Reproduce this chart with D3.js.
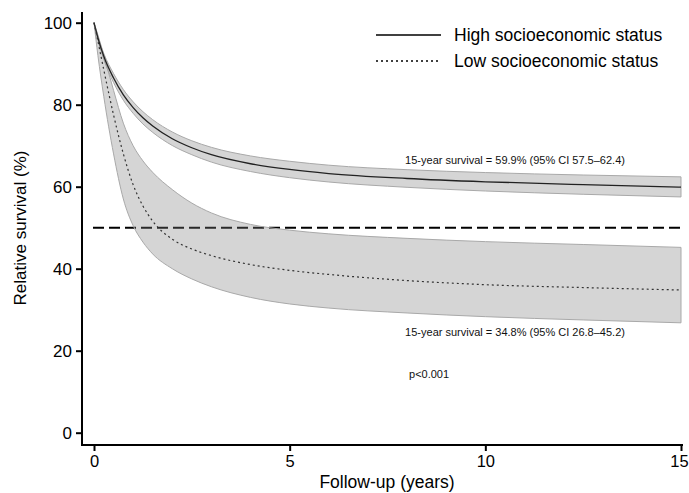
<!DOCTYPE html>
<html>
<head>
<meta charset="utf-8">
<script src="https://cdn.jsdelivr.net/npm/d3@7/dist/d3.min.js"></script>
<style>
  body { margin: 0; background: #fff; }
  svg { font-family: "Liberation Sans", Arial, sans-serif; }
</style>
</head>
<body>
<svg id="chart" width="689" height="493"></svg>
<script>
// follow-up time points (years)
var years = [0, 0.1, 0.25, 0.5, 0.75, 1, 1.25, 1.5, 2, 2.5, 3, 4, 5, 6, 8, 10, 12.5, 15];

// high socioeconomic status: estimate and 95% CI
var highEst = [100, 96.3, 91.8, 86.5, 82.4, 79.3, 76.8, 74.8, 71.7, 69.5, 67.8, 65.6, 64.2, 63.2, 62.0, 61.2, 60.5, 59.9];
var highLo  = [100, 95.9, 91.1, 85.4, 81.1, 77.9, 75.3, 73.25, 70.05, 67.8, 66.0, 63.7, 62.2, 61.15, 59.85, 58.95, 58.15, 57.5];
var highHi  = [100, 96.7, 92.5, 87.6, 83.7, 80.7, 78.3, 76.35, 73.35, 71.2, 69.6, 67.5, 66.2, 65.25, 64.15, 63.45, 62.85, 62.4];

// low socioeconomic status: estimate and 95% CI
var lowEst = [100, 95.5, 88.5, 77.5, 68, 60.5, 55.3, 51.6, 47.2, 44.8, 43.2, 41.0, 39.6, 38.6, 37.1, 36.1, 35.4, 34.8];
var lowLo  = [100, 92, 82, 68, 57, 50.5, 46.5, 43.6, 40, 37.5, 35.6, 33.0, 31.4, 30.4, 29.2, 28.3, 27.5, 26.8];
var lowHi  = [100, 97, 92, 83.5, 75.5, 70, 66.3, 63.5, 59.3, 56, 53.6, 50.8, 49.4, 48.5, 47.4, 46.6, 45.9, 45.2];

var xTicks = [0, 5, 10, 15];
var yTicks = [0, 20, 40, 60, 80, 100];
var refLine = 50;

var legendLabels = ['High socioeconomic status', 'Low socioeconomic status'];
var notes = [
  { x: 7.95, y: 65.5, text: '15-year survival = 59.9% (95% CI 57.5\u201362.4)' },
  { x: 7.95, y: 23.5, text: '15-year survival = 34.8% (95% CI 26.8\u201345.2)' },
  { x: 8.05, y: 13.3, text: 'p<0.001' }
];

var svg = d3.select('#chart');

var x = d3.scaleLinear().domain([0, 15]).range([94, 681]);
var y = d3.scaleLinear().domain([0, 100]).range([432.7, 22.7]);

function rows(est, lo, hi) {
  return years.map(function(t, i) {
    return { t: t, est: est[i], lo: lo[i], hi: hi[i] };
  });
}

var high = rows(highEst, highLo, highHi);
var low = rows(lowEst, lowLo, lowHi);

var curve = d3.curveMonotoneX;

var area = d3.area()
  .x(function(d) { return x(d.t); })
  .y0(function(d) { return y(d.lo); })
  .y1(function(d) { return y(d.hi); })
  .curve(curve);

var line = d3.line()
  .x(function(d) { return x(d.t); })
  .y(function(d) { return y(d.est); })
  .curve(curve);

// reference line at 50%
svg.append('line')
  .attr('x1', x(0) - 1).attr('x2', x(15) + 1)
  .attr('y1', y(refLine)).attr('y2', y(refLine))
  .attr('stroke', '#000')
  .attr('stroke-width', 2)
  .attr('stroke-dasharray', '11,5');

// confidence bands
[high, low].forEach(function(series) {
  svg.append('path')
    .datum(series)
    .attr('d', area)
    .attr('fill', '#7f7f7f')
    .attr('fill-opacity', 0.33)
    .attr('stroke', '#a9a9a9')
    .attr('stroke-width', 1);
});

svg.append('path')
  .datum(high)
  .attr('d', line)
  .attr('fill', 'none')
  .attr('stroke', '#222')
  .attr('stroke-width', 1.3);

svg.append('path')
  .datum(low)
  .attr('d', line)
  .attr('fill', 'none')
  .attr('stroke', '#333')
  .attr('stroke-width', 1.2)
  .attr('stroke-dasharray', '2,3');

// axes
var xAxis = svg.append('g')
  .attr('transform', 'translate(0,445)')
  .call(d3.axisBottom(x).tickValues(xTicks).tickSize(6).tickPadding(4).tickSizeOuter(0));

var yAxis = svg.append('g')
  .attr('transform', 'translate(82,0)')
  .call(d3.axisLeft(y).tickValues(yTicks).tickSize(6).tickPadding(4).tickSizeOuter(0));

[xAxis, yAxis].forEach(function(g) {
  g.select('.domain').remove();
  g.selectAll('.tick line').attr('stroke', '#000').attr('stroke-width', 2);
  g.selectAll('.tick text').attr('font-size', 17).attr('fill', '#000')
    .attr('font-family', '"Liberation Sans", Arial, sans-serif');
});
xAxis.selectAll('.tick text')
  .attr('font-size', 16.5)
  .attr('dx', function(d) { return d === 15 ? -2 : 0; });

// axis lines
svg.append('path')
  .attr('d', 'M82,12V445H683')
  .attr('fill', 'none')
  .attr('stroke', '#000')
  .attr('stroke-width', 2);

svg.append('text')
  .attr('x', 387).attr('y', 488)
  .attr('text-anchor', 'middle')
  .attr('font-size', 17.5)
  .text('Follow-up (years)');

svg.append('text')
  .attr('transform', 'translate(26,228) rotate(-90)')
  .attr('text-anchor', 'middle')
  .attr('font-size', 17)
  .text('Relative survival (%)');

// legend
var legend = svg.append('g');
legendLabels.forEach(function(label, i) {
  var ly = 35 + i * 26;
  legend.append('line')
    .attr('x1', 376).attr('x2', 441)
    .attr('y1', ly).attr('y2', ly)
    .attr('stroke', '#000')
    .attr('stroke-width', 1.6)
    .attr('stroke-dasharray', i === 0 ? null : '2,3');
  legend.append('text')
    .attr('x', 454).attr('y', ly + 6)
    .attr('font-size', 17.5)
    .text(label);
});

// annotations
svg.selectAll('text.note')
  .data(notes)
  .enter().append('text')
  .attr('class', 'note')
  .attr('x', function(d) { return x(d.x); })
  .attr('y', function(d) { return y(d.y); })
  .attr('font-size', 11)
  .attr('fill', '#111')
  .text(function(d) { return d.text; });
</script>
</body>
</html>
